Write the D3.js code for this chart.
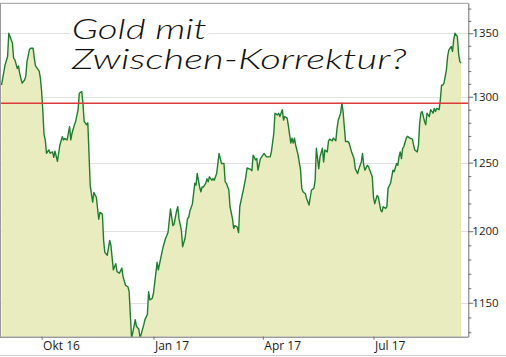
<!DOCTYPE html>
<html><head><meta charset="utf-8">
<script src="https://cdn.jsdelivr.net/npm/d3@7"></script>
<style>html,body{margin:0;padding:0;background:#fff;}svg{display:block;}</style>
</head><body>
<svg id="chart" width="506" height="357"></svg>
<script>
const dates = ["2016-08-29","2016-09-01","2016-09-03","2016-09-04","2016-09-07","2016-09-08","2016-09-09","2016-09-11","2016-09-12","2016-09-13","2016-09-14","2016-09-15","2016-09-17","2016-09-18","2016-09-19","2016-09-21","2016-09-22","2016-09-24","2016-09-25","2016-09-26","2016-09-29","2016-09-30",
"2016-10-01","2016-10-02","2016-10-03","2016-10-04","2016-10-05","2016-10-07","2016-10-08","2016-10-10","2016-10-11","2016-10-12","2016-10-14","2016-10-15","2016-10-16","2016-10-18","2016-10-19","2016-10-20","2016-10-22","2016-10-24","2016-10-25","2016-10-26","2016-10-28","2016-10-29","2016-10-31",
"2016-11-01","2016-11-03","2016-11-04","2016-11-05","2016-11-07","2016-11-08","2016-11-10","2016-11-12","2016-11-13","2016-11-15","2016-11-17","2016-11-18","2016-11-20","2016-11-21","2016-11-22","2016-11-24","2016-11-26","2016-11-27","2016-11-29","2016-11-30",
"2016-12-01","2016-12-02","2016-12-04","2016-12-06","2016-12-07","2016-12-09","2016-12-11","2016-12-12","2016-12-14","2016-12-16","2016-12-17","2016-12-18","2016-12-20","2016-12-21","2016-12-23","2016-12-24","2016-12-25","2016-12-27","2016-12-28","2016-12-29","2016-12-31",
"2017-01-01","2017-01-02","2017-01-04","2017-01-05","2017-01-07","2017-01-09","2017-01-11","2017-01-12","2017-01-13","2017-01-15","2017-01-17","2017-01-18","2017-01-20","2017-01-21","2017-01-22","2017-01-24","2017-01-25","2017-01-27","2017-01-29","2017-01-30","2017-01-31",
"2017-02-02","2017-02-04","2017-02-05","2017-02-06","2017-02-08","2017-02-09","2017-02-10","2017-02-11","2017-02-13","2017-02-14","2017-02-15","2017-02-16","2017-02-18","2017-02-19","2017-02-20","2017-02-22","2017-02-24","2017-02-25","2017-02-26","2017-02-28",
"2017-03-01","2017-03-02","2017-03-04","2017-03-05","2017-03-07","2017-03-08","2017-03-09","2017-03-11","2017-03-12","2017-03-13","2017-03-15","2017-03-16","2017-03-17","2017-03-18","2017-03-19","2017-03-22","2017-03-23","2017-03-24","2017-03-26","2017-03-27","2017-03-28","2017-03-30",
"2017-04-02","2017-04-03","2017-04-04","2017-04-07","2017-04-08","2017-04-10","2017-04-11","2017-04-13","2017-04-14","2017-04-15","2017-04-17","2017-04-18","2017-04-19","2017-04-21","2017-04-22","2017-04-24","2017-04-25","2017-04-26","2017-04-27","2017-04-28","2017-04-30",
"2017-05-02","2017-05-03","2017-05-04","2017-05-06","2017-05-07","2017-05-09","2017-05-10","2017-05-11","2017-05-13","2017-05-14","2017-05-15","2017-05-17","2017-05-18","2017-05-20","2017-05-21","2017-05-22","2017-05-24","2017-05-25","2017-05-26","2017-05-28","2017-05-29","2017-05-31",
"2017-06-01","2017-06-02","2017-06-04","2017-06-05","2017-06-06","2017-06-07","2017-06-08","2017-06-10","2017-06-11","2017-06-13","2017-06-15","2017-06-16","2017-06-18","2017-06-19","2017-06-21","2017-06-22","2017-06-23","2017-06-24","2017-06-26","2017-06-27","2017-06-28","2017-06-30",
"2017-07-01","2017-07-02","2017-07-04","2017-07-05","2017-07-07","2017-07-08","2017-07-09","2017-07-11","2017-07-12","2017-07-13","2017-07-15","2017-07-16","2017-07-17","2017-07-18","2017-07-20","2017-07-21","2017-07-22","2017-07-23","2017-07-24","2017-07-25","2017-07-26","2017-07-28","2017-07-29","2017-07-31",
"2017-08-02","2017-08-03","2017-08-04","2017-08-06","2017-08-07","2017-08-08","2017-08-09","2017-08-10","2017-08-12","2017-08-13","2017-08-14","2017-08-16","2017-08-17","2017-08-19","2017-08-20","2017-08-21","2017-08-22","2017-08-24","2017-08-25","2017-08-26","2017-08-27","2017-08-28","2017-08-30","2017-08-31",
"2017-09-01","2017-09-03","2017-09-04","2017-09-05","2017-09-06","2017-09-08","2017-09-09","2017-09-10","2017-09-11"];

const prices = [1309,1325,1331.5,1350,1342,1330,1329,1322,1324,1318,1314,1310.5,1313,1316,1327.6,1337,1338,1338,1330,1324,1320,1314.5,
1304,1289,1271,1267,1257,1259.5,1257,1258,1254,1258.6,1251,1257,1263,1269.5,1267,1268,1267,1277,1267,1272,1278.5,1281,1290,
1302.7,1304,1295,1281,1278.5,1280,1233,1221,1228,1224.5,1208.6,1213.5,1212.3,1193.5,1185,1183,1193.5,1190,1172.7,1175,
1177,1171.5,1170.4,1174,1168,1162,1161,1157.6,1126,1134,1138.5,1134,1132,1126,1132,1135,1138.5,1142,1157.6,1152,1153,
1156.5,1163.5,1178,1172.7,1181,1189,1195,1197,1199.3,1216,1204,1205,1214.6,1217.6,1209,1200.5,1189,1195,1209,1210,1214.6,
1219.5,1234.7,1233.4,1242,1232,1228.5,1232,1232,1234.7,1238,1235.8,1239.5,1237,1238,1237,1242,1256.9,1253,1249.3,1249.3,
1235.8,1234.7,1229.8,1217.6,1209,1202,1204,1203,1199,1217.6,1226,1230,1234.7,1239.5,1246,1245,1244,1255.6,1252,1253,1244.4,1253,
1256.9,1255.6,1254.3,1254.3,1258,1272,1287.3,1286,1287.3,1284.8,1290,1282,1284.8,1283.5,1277.7,1264.6,1268.4,1264.6,1268.4,1263,1255.6,
1244.4,1231,1228.5,1227,1223.6,1218.8,1224.5,1229.8,1231,1237,1260.7,1245.5,1254.3,1260.7,1250.5,1259.4,1258,1266.3,1267.6,1266.3,1268.4,1266.3,
1275.5,1281.9,1287.3,1295,1288.6,1277.2,1265.8,1265.8,1264.5,1258,1253,1245.5,1241.8,1245.5,1250.5,1256.9,1248,1244.4,1248,1246.8,1244.4,1239.5,
1224.6,1219.8,1225.8,1224.6,1215,1214,1217.6,1216.4,1217.6,1231,1234.7,1239.5,1244.4,1243.2,1249.3,1248,1254.3,1258,1253,1260.7,1262,1268.4,1269.7,1268.4,
1267.6,1263.2,1259.4,1258,1263,1279.7,1287.3,1288.6,1281,1278.5,1287.3,1284.8,1290,1287.3,1291,1288.6,1291,1290,1297.5,1309,1309,1310.5,1321,1331.5,
1336.8,1339.4,1335.5,1344.7,1350,1347.3,1334,1327.6,1326.3];

const yMajorTicks = [1150, 1200, 1250, 1300, 1350];
const yMinorTicks = [1130,1140,1160,1170,1180,1190,1210,1220,1230,1240,1260,1270,1280,1290,1310,1320,1330,1340,1360,1370];
const xTickDates = ["2016-10-01","2017-01-01","2017-04-01","2017-07-01"];
const xTickLabels = ["Okt 16","Jan 17","Apr 17","Jul 17"];
const resistanceLevel = [1295];
const titleLines = ["Gold mit", "Zwischen-Korrektur?"];
const xDomain = ["2016-08-29","2017-09-17"];
const yDomain = [1127, 1374.3];

const parse = d3.timeParse("%Y-%m-%d");
const data = dates.map((d, i) => ({date: parse(d), value: prices[i]}));

const svg = d3.select("#chart");
const L = 1, R = 468.3, T = 3.3, B = 336.7;

const x = d3.scaleTime().domain(xDomain.map(parse)).range([1.5, R]);
const y = d3.scaleLog().domain(yDomain).range([B, T]);

svg.append("defs").append("clipPath").attr("id","plotclip")
  .append("rect").attr("x", L).attr("y", T).attr("width", R - L).attr("height", B - T);

// gridlines
svg.append("g").selectAll("line").data(yMajorTicks).join("line")
  .attr("x1", L).attr("x2", R)
  .attr("y1", d => Math.round(y(d)) + 0.5).attr("y2", d => Math.round(y(d)) + 0.5)
  .attr("stroke", "#e2e2e2").attr("stroke-width", 1);

const plot = svg.append("g").attr("clip-path", "url(#plotclip)");

plot.append("path").datum(data)
  .attr("d", d3.area().x(d => x(d.date)).y0(B).y1(d => y(d.value)))
  .attr("fill", "#e8ecbf");

plot.append("path").datum(data)
  .attr("d", d3.line().x(d => x(d.date)).y(d => y(d.value)))
  .attr("fill", "none").attr("stroke", "#1c7f2f").attr("stroke-width", 1.4)
  .attr("stroke-linejoin", "round");

// resistance line
svg.append("g").selectAll("line").data(resistanceLevel).join("line")
  .attr("x1", L).attr("x2", R)
  .attr("y1", d => y(d)).attr("y2", d => y(d))
  .attr("stroke", "#e0393b").attr("stroke-width", 1.4);

// frame
svg.append("line").attr("x1", 0).attr("x2", R).attr("y1", T).attr("y2", T).attr("stroke", "#9a9a9a");
svg.append("line").attr("x1", 0.5).attr("x2", 0.5).attr("y1", T).attr("y2", B).attr("stroke", "#9a9a9a");
svg.append("line").attr("x1", 0).attr("x2", 506).attr("y1", 355.5).attr("y2", 355.5).attr("stroke", "#d0d0d0");

// x axis
const xAxis = d3.axisBottom(x).tickValues(xTickDates.map(parse))
  .tickFormat((d, i) => xTickLabels[i]).tickSize(3).tickSizeOuter(0);
const gx = svg.append("g").attr("transform", `translate(0,${B})`).call(xAxis);
gx.select(".domain").attr("stroke", "#6e6e6e").attr("d", `M0,0.5H${R}`);
gx.selectAll(".tick line").attr("stroke", "#6e6e6e");
gx.selectAll(".tick text").attr("text-anchor", "start").attr("x", 1).attr("y", 5)
  .attr("font-family", "'Open Sans', 'Noto Sans', sans-serif").attr("font-size", 12).attr("fill", "#1a1a1a");

// y axis (right)
const gyMinor = svg.append("g").attr("transform", `translate(${R},0)`)
  .call(d3.axisRight(y).tickValues(yMinorTicks).tickFormat("").tickSize(3).tickSizeOuter(0));
gyMinor.select(".domain").remove();
gyMinor.selectAll(".tick line").attr("stroke", "#6e6e6e");

const gy = svg.append("g").attr("transform", `translate(${R},0)`)
  .call(d3.axisRight(y).tickValues(yMajorTicks).tickFormat(d3.format("d")).tickSize(5).tickSizeOuter(0));
gy.select(".domain").attr("stroke", "#6e6e6e").attr("d", `M0.5,${T}V${B + 0.5}`);
gy.selectAll(".tick line").attr("stroke", "#6e6e6e");
gy.selectAll(".tick text").attr("x", 4)
  .attr("font-family", "'Open Sans', 'Noto Sans', sans-serif").attr("font-size", 11.5).attr("fill", "#1a1a1a");

// title
svg.append("rect").attr("x", 70).attr("y", 16).attr("width", 138).attr("height", 27).attr("fill", "#fff");
const titleWidths = [135, 335];
const titleY = [38.5, 68.5];
svg.append("g").selectAll("text").data(titleLines).join("text")
  .attr("x", 71.7).attr("y", (d, i) => titleY[i])
  .attr("textLength", (d, i) => titleWidths[i]).attr("lengthAdjust", "spacingAndGlyphs")
  .attr("font-family", "Lato, 'Open Sans', sans-serif").attr("font-style", "italic").attr("font-weight", 300)
  .attr("font-size", 27).attr("fill", "#111")
  .text(d => d);
</script>
</body></html>
